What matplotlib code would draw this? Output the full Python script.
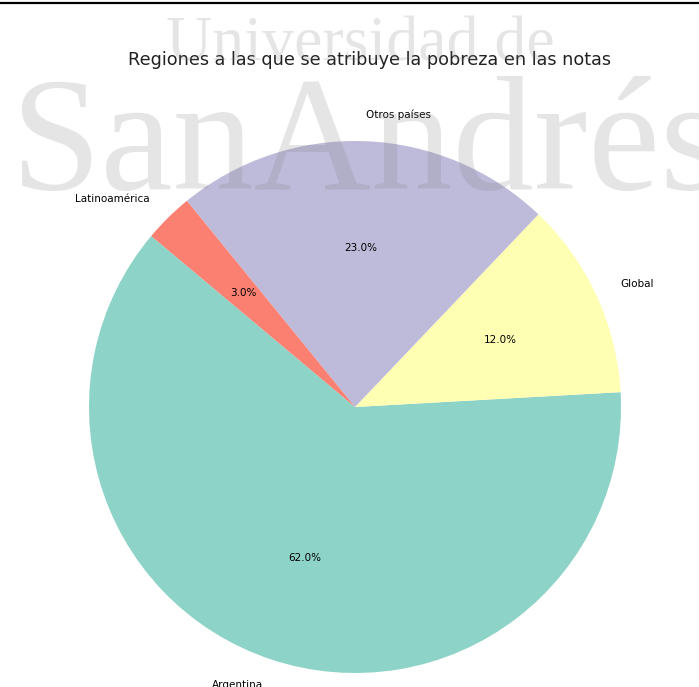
import matplotlib
matplotlib.use("Agg")
import matplotlib.pyplot as plt
from matplotlib.lines import Line2D

regiones = ["Argentina", "Global", "Otros países", "Latinoamérica"]
porcentajes = [62.0, 12.0, 23.0, 3.0]
colores = ["#8dd3c7", "#ffffb3", "#bebada", "#fb8072"]
titulo = "Regiones a las que se atribuye la pobreza en las notas"

W, H = 699, 687
fig = plt.figure(figsize=(W / 100, H / 100), dpi=100)

# pie axes placed in pixel terms (centre ~ (355, 407), radius ~266 px)
ax = fig.add_axes([22.5 / W, (H - 739.5) / H, 665 / W, 665 / H])
ax.pie(porcentajes, labels=regiones, colors=colores, autopct="%1.1f%%",
       startangle=140, counterclock=True, textprops={"fontsize": 7.5})
ax.set_aspect("equal")

fig.text(369 / W, 1 - 60 / H, titulo, ha="center", va="center", fontsize=12.7,
         color="#222222")

# watermark
fig.text(360 / W, 1 - 60 / H, "Universidad de", ha="center", va="baseline",
         family="Liberation Serif", fontsize=46, color="gray", alpha=0.2, zorder=5)
fig.text(10 / W, 1 - 189 / H, "SanAndrés", ha="left", va="baseline",
         family="Liberation Serif", fontsize=117, color="gray", alpha=0.2, zorder=5)

# rule at the top edge
fig.add_artist(Line2D([0, 1], [1 - 2.5 / H, 1 - 2.5 / H], transform=fig.transFigure,
                      color="black", lw=1.6))

fig.savefig("out.png", dpi=100)
